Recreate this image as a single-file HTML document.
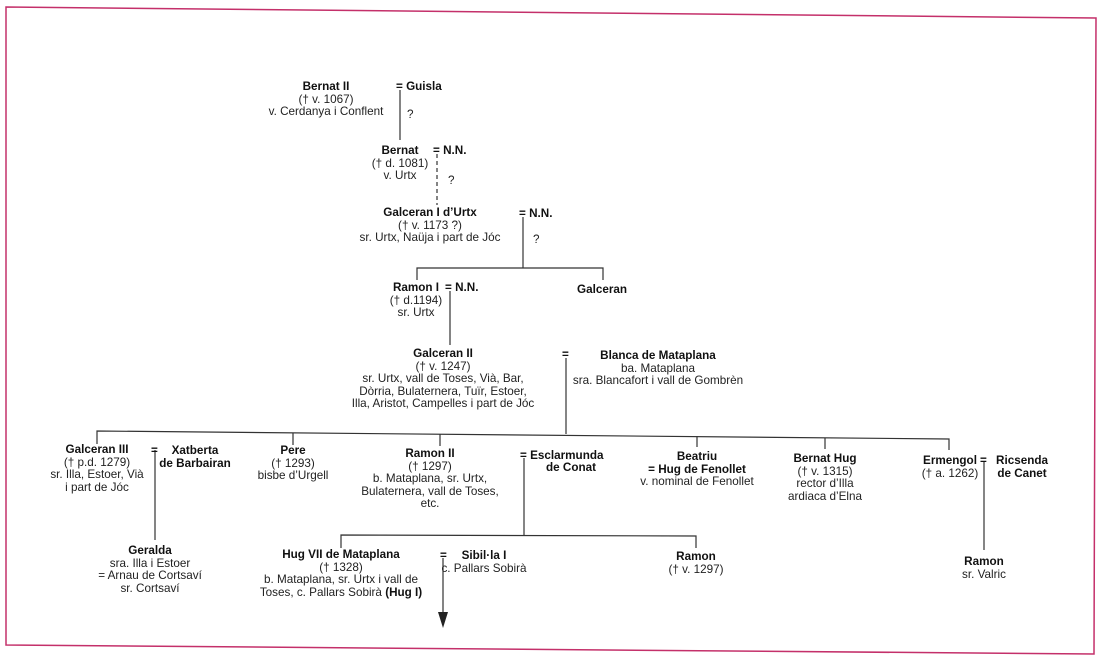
<!DOCTYPE html>
<html><head><meta charset="utf-8"><style>
body{margin:0;width:1100px;height:659px;background:#fff;position:relative;overflow:hidden;font-family:"Liberation Sans",sans-serif;font-size:11.7px;color:#222}
.t{position:absolute;transform:translateX(-50%);text-align:center;white-space:nowrap;line-height:12.5px}
.l{position:absolute;white-space:nowrap;line-height:12.5px}
b{font-weight:bold;color:#111}
svg{position:absolute;left:0;top:0}
</style></head><body>
<svg width="1100" height="659">
<polygon points="6,7 1096,18 1094,654 6,645" fill="none" stroke="#c4306a" stroke-width="1.5"/>
<g stroke="#333" stroke-width="1.2" fill="none">
<line x1="400" y1="90" x2="400" y2="140"/>
<line x1="437" y1="154" x2="437" y2="205" stroke-dasharray="4,3"/>
<line x1="523" y1="217" x2="523" y2="268"/>
<polyline points="417,280 417,268 603,268 603,280"/>
<line x1="450" y1="291" x2="450" y2="345"/>
<line x1="566" y1="358" x2="566" y2="434"/>
<polyline points="97,444 97,431 949,439 949,450"/>
<line x1="293" y1="433" x2="293" y2="445"/>
<line x1="440" y1="434" x2="440" y2="446"/>
<line x1="697" y1="436" x2="697" y2="447"/>
<line x1="825" y1="438" x2="825" y2="449"/>
<line x1="155" y1="450" x2="155" y2="540"/>
<line x1="524" y1="458" x2="524" y2="535"/>
<polyline points="341,548 341,535 696,536 696,548"/>
<line x1="443" y1="558" x2="443" y2="615"/>
<line x1="984" y1="462" x2="984" y2="550"/>
</g>
<polygon points="438,612 448,612 443,628" fill="#222"/>
</svg>

<div class="t" style="left:326px;top:81px"><b>Bernat II</b><br>(† v. 1067)<br>v. Cerdanya i Conflent</div>
<div class="l" style="left:396px;top:81px"><b>= Guisla</b></div>
<div class="l" style="left:407px;top:109px">?</div>

<div class="t" style="left:400px;top:145px"><b>Bernat</b><br>(† d. 1081)<br>v. Urtx</div>
<div class="l" style="left:433px;top:145px"><b>= N.N.</b></div>
<div class="l" style="left:448px;top:175px">?</div>

<div class="t" style="left:430px;top:207px"><b>Galceran I d’Urtx</b><br>(† v. 1173 ?)<br>sr. Urtx, Naüja i part de Jóc</div>
<div class="l" style="left:519px;top:208px"><b>= N.N.</b></div>
<div class="l" style="left:533px;top:234px">?</div>

<div class="t" style="left:416px;top:282px"><b>Ramon I</b><br>(† d.1194)<br>sr. Urtx</div>
<div class="l" style="left:445px;top:282px"><b>= N.N.</b></div>
<div class="l" style="left:577px;top:284px"><b>Galceran</b></div>

<div class="t" style="left:443px;top:348px"><b>Galceran II</b><br>(† v. 1247)<br>sr. Urtx, vall de Toses, Vià, Bar,<br>Dòrria, Bulaternera, Tuïr, Estoer,<br>Illa, Aristot, Campelles i part de Jóc</div>
<div class="l" style="left:562px;top:349px"><b>=</b></div>
<div class="t" style="left:658px;top:350px"><b>Blanca de Mataplana</b><br>ba. Mataplana<br>sra. Blancafort i vall de Gombrèn</div>

<div class="t" style="left:97px;top:444px"><b>Galceran III</b><br>(† p.d. 1279)<br>sr. Illa, Estoer, Vià<br>i part de Jóc</div>
<div class="l" style="left:151px;top:445px"><b>=</b></div>
<div class="t" style="left:195px;top:445px"><b>Xatberta<br>de Barbairan</b></div>
<div class="t" style="left:293px;top:445px"><b>Pere</b><br>(† 1293)<br>bisbe d’Urgell</div>
<div class="t" style="left:430px;top:448px"><b>Ramon II</b><br>(† 1297)<br>b. Mataplana, sr. Urtx,<br>Bulaternera, vall de Toses,<br>etc.</div>
<div class="l" style="left:520px;top:450px"><b>= Esclarmunda</b></div>
<div class="t" style="left:571px;top:462px"><b>de Conat</b></div>
<div class="t" style="left:697px;top:451px"><b>Beatriu<br>= Hug de Fenollet</b><br>v. nominal de Fenollet</div>
<div class="t" style="left:825px;top:453px"><b>Bernat Hug</b><br>(† v. 1315)<br>rector d’Illa<br>ardiaca d’Elna</div>
<div class="t" style="left:950px;top:455px"><b>Ermengol</b><br>(† a. 1262)</div>
<div class="l" style="left:980px;top:455px"><b>=</b></div>
<div class="t" style="left:1022px;top:455px"><b>Ricsenda<br>de Canet</b></div>

<div class="t" style="left:150px;top:545px"><b>Geralda</b><br>sra. Illa i Estoer<br>= Arnau de Cortsaví<br>sr. Cortsaví</div>
<div class="t" style="left:341px;top:549px"><b>Hug VII de Mataplana</b><br>(† 1328)<br>b. Mataplana, sr. Urtx i vall de<br>Toses, c. Pallars Sobirà <b>(Hug I)</b></div>
<div class="l" style="left:440px;top:550px"><b>=</b></div>
<div class="t" style="left:484px;top:550px"><b>Sibil·la I</b><br>c. Pallars Sobirà</div>
<div class="t" style="left:696px;top:551px"><b>Ramon</b><br>(† v. 1297)</div>
<div class="t" style="left:984px;top:556px"><b>Ramon</b><br>sr. Valric</div>
</body></html>
